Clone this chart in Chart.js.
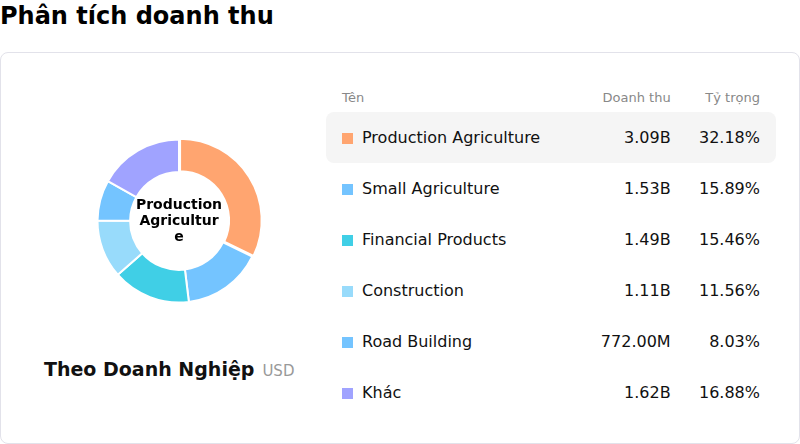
<!DOCTYPE html>
<html><head><meta charset="utf-8">
<script src="https://cdn.jsdelivr.net/npm/chart.js@4"></script>
<style>
body{margin:0;width:800px;height:444px;font-family:"DejaVu Sans",sans-serif;background:#fff;overflow:hidden;position:relative}
h1{position:absolute;left:0;top:0;margin:0;font-size:24px;font-weight:bold;line-height:32px;color:#000}
.card{position:absolute;left:0;top:52px;width:798px;height:390px;border:1px solid #e2e2ea;border-radius:8px}
#wrap{position:absolute;left:78px;top:68px;width:200px;height:200px}
.sub{position:absolute;left:43px;top:305px;font-size:19px;font-weight:bold;color:#111}
.sub span{font-weight:normal;font-size:15px;color:#999;margin-left:8px}
table{position:absolute;left:325px;top:29px;width:450px;border-collapse:collapse;font-size:16px;color:#111}
th{font-weight:normal;color:#888;font-size:13px;height:30px;text-align:right;padding:0 16px}
th:first-child{text-align:left}
td{height:51px;text-align:right;padding:0 16px}
td:first-child{text-align:left}
th:nth-child(2),td:nth-child(2){padding-right:4px}
tr.hl td{background:#f5f5f5}
tr.hl td:first-child{border-radius:8px 0 0 8px}
tr.hl td:last-child{border-radius:0 8px 8px 0}
.sw{display:inline-block;width:11px;height:11px;margin-right:9px;vertical-align:-1px}
</style></head><body>
<h1>Phân tích doanh thu</h1>
<div class="card">
<div id="wrap"><canvas id="c"></canvas></div>
<div class="sub">Theo Doanh Nghiệp<span>USD</span></div>
<table id="t"><thead><tr><th>Tên</th><th>Doanh thu</th><th>Tỷ trọng</th></tr></thead><tbody></tbody></table>
</div>
<script>
const names=["Production Agriculture","Small Agriculture","Financial Products","Construction","Road Building","Khác"];
const revenue=["3.09B","1.53B","1.49B","1.11B","772.00M","1.62B"];
const shares=[32.18,15.89,15.46,11.56,8.03,16.88];
const colors=["#FFA570","#74C4FF","#40CFE6","#98DBFB","#74C4FF","#A0A3FF"];

const tb=document.querySelector("#t tbody");
for(let i=0;i<names.length;i++){
const tr=document.createElement("tr");
if(i==0) tr.className="hl";
tr.innerHTML='<td><span class="sw" style="background:'+colors[i]+'"></span>'+names[i]+'</td><td>'+revenue[i]+'</td><td>'+shares[i].toFixed(2)+'%</td>';
tb.appendChild(tr);
}

const centerText={
id:"centerText",
afterDraw(chart){
const c=chart.ctx;
const m=chart.getDatasetMeta(0).data[0];
c.save();
c.font="bold 14px 'DejaVu Sans'";
c.fillStyle="#000";
c.textAlign="center";
c.textBaseline="middle";
["Production","Agricultur","e"].forEach((s,i)=>c.fillText(s,m.x,m.y-16+i*16));
c.restore();
}
};

new Chart(document.getElementById("c"),{
type:"doughnut",
data:{labels:names,datasets:[{data:shares,backgroundColor:colors,borderColor:"#fff",borderWidth:2,offset:[5,0,0,0,0,0]}]},
options:{
responsive:true,maintainAspectRatio:false,animation:false,cutout:"60%",
layout:{padding:15},
plugins:{legend:{display:false},tooltip:{enabled:false}}
},
plugins:[centerText]
});
</script>
</body></html>
